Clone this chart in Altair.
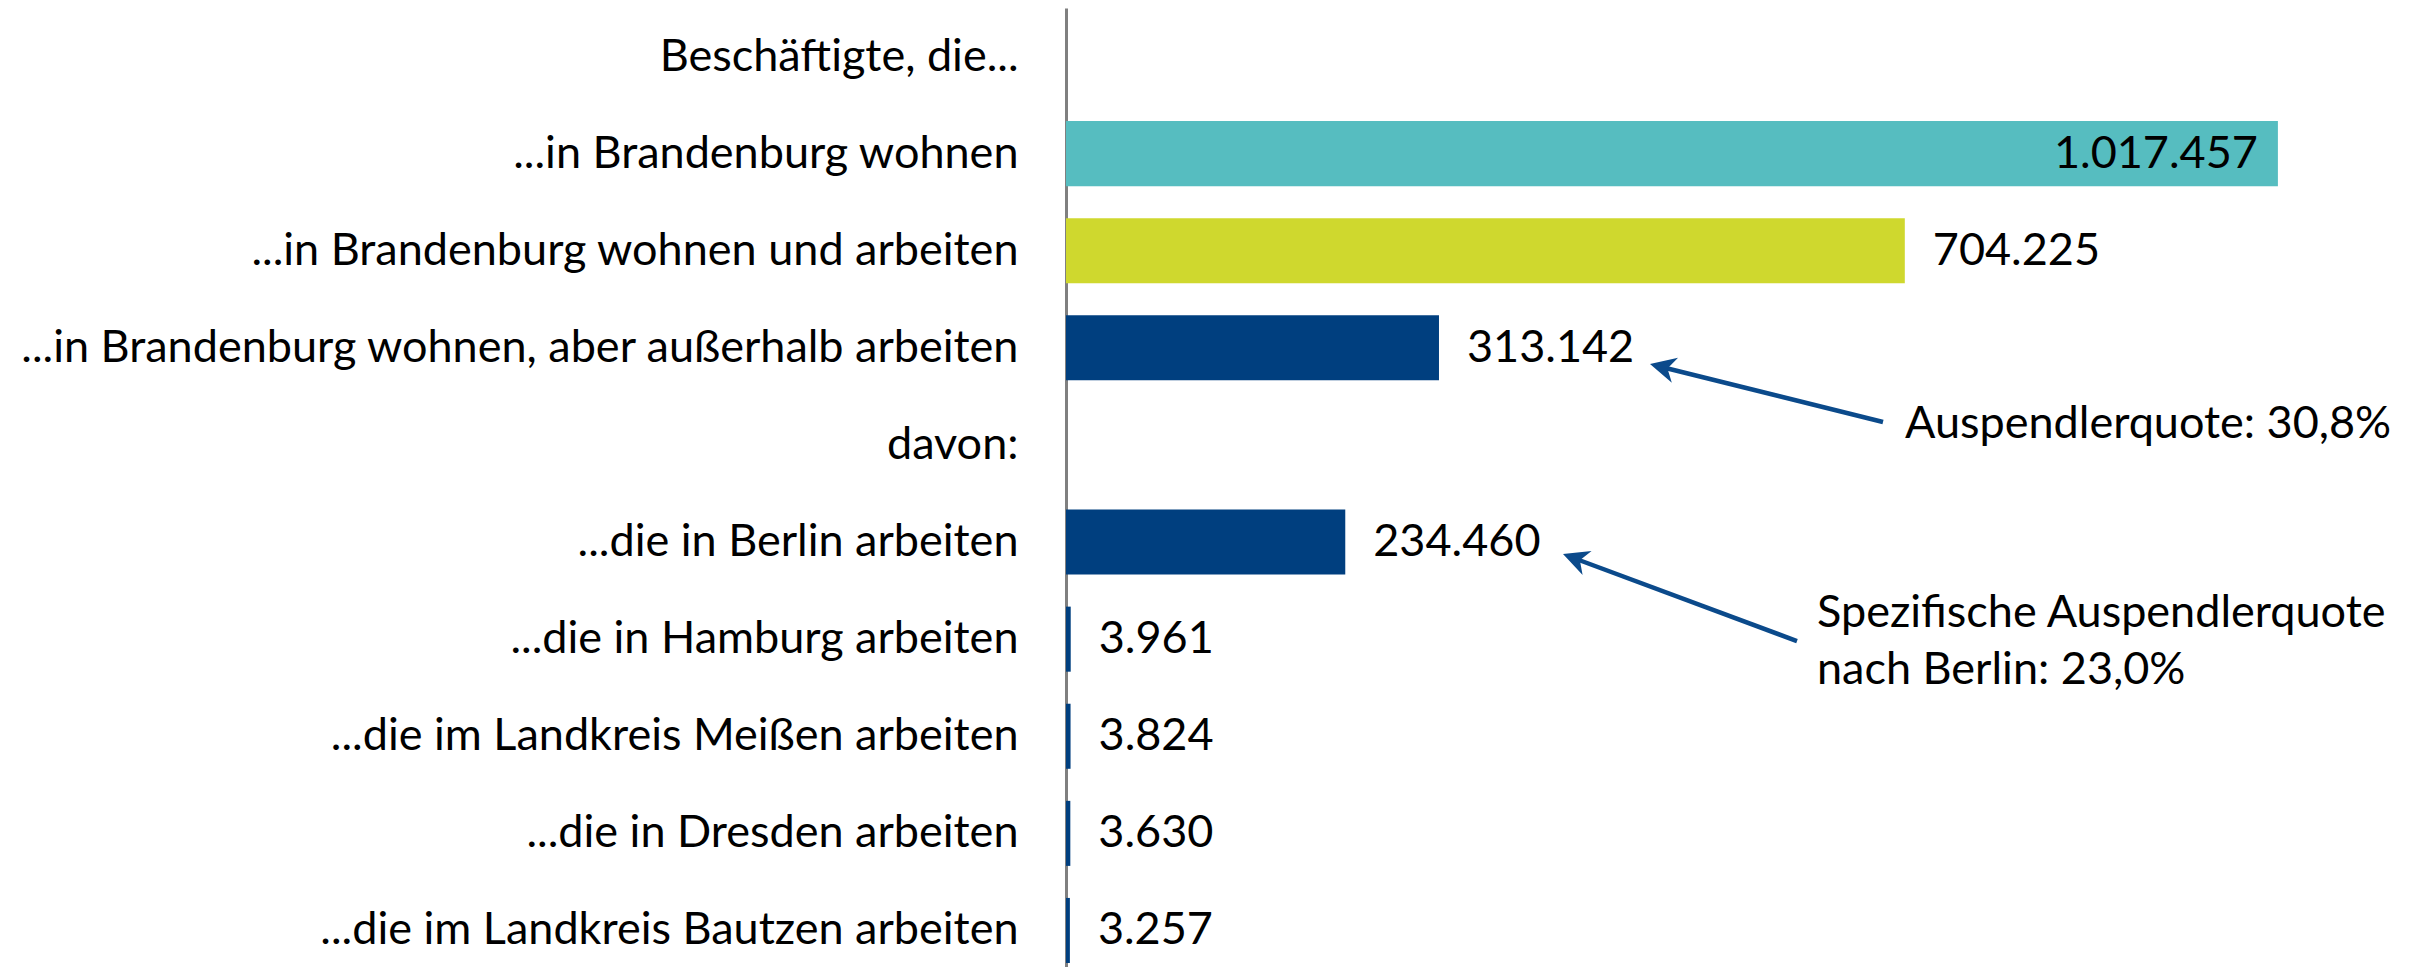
import altair as alt
import pandas as pd

# ---------------- data ----------------
categories = [
    "Beschäftigte, die...",
    "...in Brandenburg wohnen",
    "...in Brandenburg wohnen und arbeiten",
    "...in Brandenburg wohnen, aber außerhalb arbeiten",
    "davon:",
    "...die in Berlin arbeiten",
    "...die in Hamburg arbeiten",
    "...die im Landkreis Meißen arbeiten",
    "...die in Dresden arbeiten",
    "...die im Landkreis Bautzen arbeiten",
]
values = [None, 1017457, 704225, 313142, None, 234460, 3961, 3824, 3630, 3257]
bar_colors = [None, "#56BDC0", "#CFD82E", "#003F7F", None,
              "#003F7F", "#003F7F", "#003F7F", "#003F7F", "#003F7F"]

note_texts = ["Auspendlerquote: 30,8%", "Spezifische Auspendlerquote\nnach Berlin: 23,0%"]
note_values = [704380, 630500]
note_rows = [categories[4], categories[6]]

arrow_tail_values = [685915, 613710]
arrow_tail_rows = [categories[4], categories[6]]
arrow_tip_values = [490300, 417260]
arrow_tip_rows = [categories[3], categories[5]]
arrow_line_end_values = [500040, 426660]

# ---------------- styling ----------------
FONT = "Lato"
FS = 45
ARROW = "#0B4A8B"
X_MAX = 1125000
W, H = 1340, 959

df = pd.DataFrame({"cat": categories, "value": values, "color": bar_colors})
bars_df = df.dropna(subset=["value"]).copy()
bars_df["label"] = bars_df["value"].map(lambda v: f"{int(v):,}".replace(",", "."))
bars_df["inside"] = bars_df["value"] > 0.85 * X_MAX

yscale = alt.Scale(domain=categories, paddingInner=0.33, paddingOuter=0.103, align=0.8)
xscale = alt.Scale(domain=[0, X_MAX], nice=False, zero=True)

y_enc = alt.Y("cat:N", scale=yscale, sort=categories,
              axis=alt.Axis(title=None, ticks=False, tickSize=0, labelPadding=48,
                            labelFont=FONT, labelFontSize=FS, labelColor="#000000",
                            labelLimit=1100, domainColor="#808080", domainWidth=3,
                            minExtent=1058, maxExtent=1058, grid=False))
x_enc = alt.X("value:Q", scale=xscale, axis=None)

base = alt.Chart(bars_df)

bars = base.mark_bar().encode(x=x_enc, y=y_enc, color=alt.Color("color:N", scale=None))

labels_out = base.transform_filter("!datum.inside").mark_text(
    align="left", baseline="middle", dx=28, font=FONT, fontSize=FS, color="#000000"
).encode(x=x_enc, y=alt.Y("cat:N", scale=yscale, sort=categories), text="label:N")

labels_in = base.transform_filter("datum.inside").mark_text(
    align="right", baseline="middle", dx=-20, font=FONT, fontSize=FS, color="#000000"
).encode(x=x_enc, y=alt.Y("cat:N", scale=yscale, sort=categories), text="label:N")

layers = [bars, labels_out, labels_in]

# annotation texts
note_offsets = [-7.4, -12]
for i in range(2):
    nd = pd.DataFrame({"cat": [note_rows[i]], "value": [note_values[i]], "t": [note_texts[i]]})
    layers.append(
        alt.Chart(nd).mark_text(align="left", baseline="alphabetic", font=FONT, fontSize=FS,
                                color="#000000", lineBreak="\n", lineHeight=57,
                                yOffset=note_offsets[i])
        .encode(x=alt.X("value:Q", scale=xscale, axis=None),
                y=alt.Y("cat:N", scale=yscale, sort=categories), text="t:N")
    )

# arrows
tail_offsets = [-22.9, 1.9]
end_offsets = [19.1, 16.2]
tip_offsets = [16.2, 12.0]
angles = [284, 290.4]
head_path = "M0,0 L0.5,1 L0,0.7 L-0.5,1 Z"
for i in range(2):
    ad = pd.DataFrame({
        "tail_cat": [arrow_tail_rows[i]], "tail": [arrow_tail_values[i]],
        "tip_cat": [arrow_tip_rows[i]], "end": [arrow_line_end_values[i]],
        "tip": [arrow_tip_values[i]],
    })
    layers.append(
        alt.Chart(ad).mark_rule(color=ARROW, strokeWidth=4.5, yOffset=tail_offsets[i],
                                y2Offset=end_offsets[i])
        .encode(x=alt.X("tail:Q", scale=xscale, axis=None), x2="end:Q",
                y=alt.Y("tail_cat:N", scale=yscale, sort=categories), y2="tip_cat:N")
    )
    layers.append(
        alt.Chart(ad).mark_point(shape=head_path, filled=True, opacity=1, color=ARROW,
                                 size=2642, angle=angles[i], yOffset=tip_offsets[i], strokeWidth=0)
        .encode(x=alt.X("tip:Q", scale=xscale, axis=None),
                y=alt.Y("tip_cat:N", scale=yscale, sort=categories))
    )

chart = alt.layer(*layers).properties(
    width=W, height=H, padding=0, background="white"
).configure_view(stroke=None)

chart.save("out.html", embed_options={"renderer": "svg", "actions": False})
